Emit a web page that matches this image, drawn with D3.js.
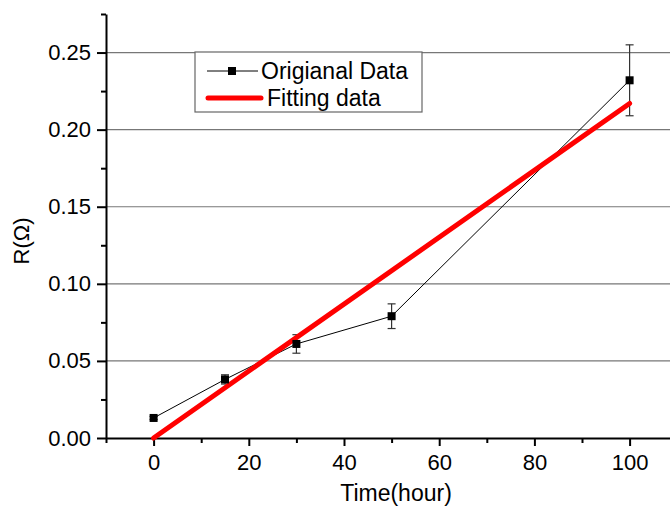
<!DOCTYPE html>
<html>
<head>
<meta charset="utf-8">
<script src="https://cdn.jsdelivr.net/npm/d3@7"></script>
<style>
  body { margin: 0; background: #fff; }
  svg { display: block; }
  text { font-family: "Liberation Sans", Arial, sans-serif; fill: #000; }
</style>
</head>
<body>
<div class="svg-container"></div>
<script>
// Data
var timeVals = [0, 15, 30, 50, 100];
var rVals = [0.013, 0.038, 0.061, 0.079, 0.232];
var rErr = [0.001, 0.003, 0.006, 0.008, 0.023];
var fitTime = [0, 100];
var fitR = [0, 0.217];
var xTicks = [0, 20, 40, 60, 80, 100];
var yTicks = [0, 0.05, 0.10, 0.15, 0.20, 0.25];
var seriesNames = ["Origianal Data", "Fitting data"];

var width = 670, height = 508;
var plotLeft = 106, plotTop = 14, plotBottom = 438;

var svg = d3.select(".svg-container").append("svg")
    .attr("width", width)
    .attr("height", height);

// Scales
const xScale = d3.scaleLinear().domain([-10, 110]).range([plotLeft, plotLeft + 120 * 4.76]);
const yScale = d3.scaleLinear().domain([0, 0.275]).range([plotBottom, plotTop]);

// Horizontal grid lines
svg.append("g")
    .selectAll("line")
    .data(yTicks.filter(function(d) { return d > 0; }))
    .enter().append("line")
    .attr("x1", plotLeft).attr("x2", width)
    .attr("y1", function(d) { return yScale(d); })
    .attr("y2", function(d) { return yScale(d); })
    .style("stroke", "#777")
    .style("stroke-width", 1.2);

// Minor ticks
var xMinor = d3.range(-10, 111, 10).filter(function(d) { return xTicks.indexOf(d) < 0; });
var yMinor = d3.range(0.025, 0.28, 0.05);

svg.append("g")
    .attr("transform", "translate(0," + plotBottom + ")")
    .call(d3.axisBottom(xScale).tickValues(xMinor).tickSize(5).tickFormat(""))
    .call(function(g) { g.select(".domain").remove(); })
    .selectAll("line").style("stroke-width", 2);

svg.append("g")
    .attr("transform", "translate(" + plotLeft + ",0)")
    .call(d3.axisLeft(yScale).tickValues(yMinor).tickSize(5).tickFormat(""))
    .call(function(g) { g.select(".domain").remove(); })
    .selectAll("line").style("stroke-width", 2);

// Major axes
const xaxis = d3.axisBottom(xScale).tickValues(xTicks).tickSize(8).tickSizeOuter(0).tickPadding(8);
const yaxis = d3.axisLeft(yScale).tickValues(yTicks).tickSize(9).tickSizeOuter(0).tickPadding(6)
    .tickFormat(d3.format(".2f"));

var gx = svg.append("g")
    .attr("transform", "translate(0," + plotBottom + ")")
    .call(xaxis);
gx.select(".domain").style("stroke-width", 2);
gx.selectAll(".tick line").style("stroke-width", 2);
gx.selectAll("text").style("font-size", "22px");

var gy = svg.append("g")
    .attr("transform", "translate(" + plotLeft + ",0)")
    .call(yaxis);
gy.select(".domain").style("stroke-width", 2);
gy.selectAll(".tick line").style("stroke-width", 2);
gy.selectAll("text").style("font-size", "22px");

// Axis titles
svg.append("text")
    .attr("x", 396).attr("y", 501)
    .attr("text-anchor", "middle")
    .style("font-size", "23px")
    .text("Time(hour)");

svg.append("text")
    .attr("transform", "translate(29,241) rotate(-90)")
    .attr("text-anchor", "middle")
    .style("font-size", "22px")
    .text("R(\u03A9)");

var data = timeVals.map(function(t, i) { return { t: t, r: rVals[i], e: rErr[i] }; });
var fitData = fitTime.map(function(t, i) { return { t: t, r: fitR[i] }; });

// Error bars
var eb = svg.append("g").style("stroke", "#333").style("stroke-width", 1.2);
data.forEach(function(d) {
    var x = xScale(d.t);
    eb.append("line").attr("x1", x).attr("x2", x)
        .attr("y1", yScale(d.r - d.e)).attr("y2", yScale(d.r + d.e));
    [d.r - d.e, d.r + d.e].forEach(function(v) {
        eb.append("line").attr("x1", x - 4).attr("x2", x + 4)
            .attr("y1", yScale(v)).attr("y2", yScale(v));
    });
});

// Data line
const line = d3.line()
    .x(function(d) { return xScale(d.t); })
    .y(function(d) { return yScale(d.r); });

svg.append("path")
    .datum(data)
    .attr("d", line)
    .style("fill", "none")
    .style("stroke", "#000")
    .style("stroke-width", 1);

// Fitting line
svg.append("path")
    .datum(fitData)
    .attr("d", line)
    .style("fill", "none")
    .style("stroke", "#ff0000")
    .style("stroke-width", 5)
    .style("stroke-linecap", "round");

// Markers
svg.append("g")
    .selectAll("rect")
    .data(data)
    .enter().append("rect")
    .attr("x", function(d) { return xScale(d.t) - 4; })
    .attr("y", function(d) { return yScale(d.r) - 4; })
    .attr("width", 8).attr("height", 8)
    .attr("fill", "#000");

// Legend
var lg = svg.append("g").attr("transform", "translate(195,52)");
lg.append("rect")
    .attr("width", 227).attr("height", 60)
    .attr("fill", "#fff")
    .attr("stroke", "#666")
    .attr("stroke-width", 1.2);
lg.append("line").attr("x1", 12).attr("x2", 63).attr("y1", 19).attr("y2", 19)
    .style("stroke", "#000").style("stroke-width", 1);
lg.append("rect").attr("x", 33).attr("y", 15).attr("width", 8).attr("height", 8).attr("fill", "#000");
lg.append("text").attr("x", 66).attr("y", 27).style("font-size", "23px").text(seriesNames[0]);
lg.append("line").attr("x1", 13).attr("x2", 66).attr("y1", 46).attr("y2", 46)
    .style("stroke", "#ff0000").style("stroke-width", 5).style("stroke-linecap", "round");
lg.append("text").attr("x", 72).attr("y", 54).style("font-size", "23px").text(seriesNames[1]);
</script>
</body>
</html>
